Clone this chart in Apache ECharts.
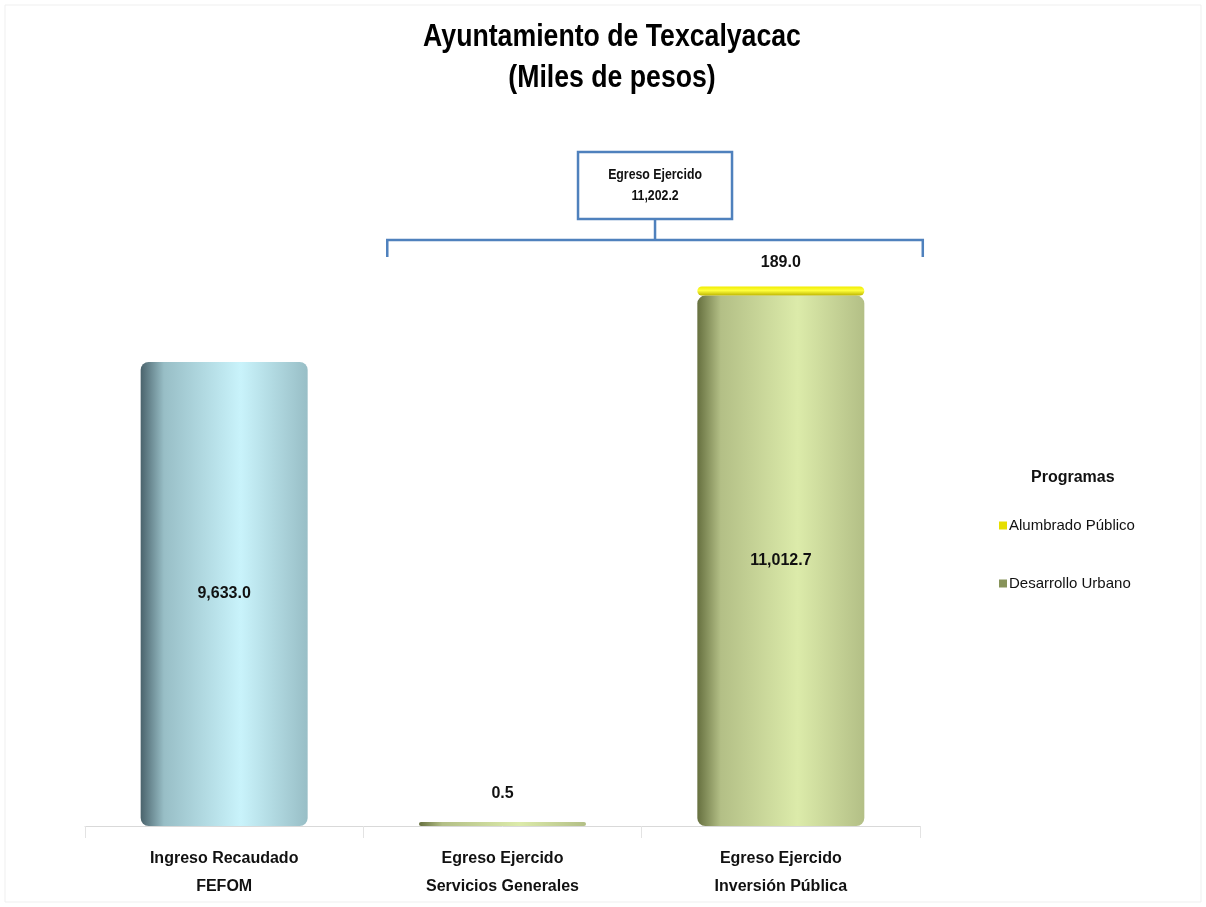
<!DOCTYPE html>
<html><head><meta charset="utf-8">
<script src="https://cdn.jsdelivr.net/npm/echarts@6/dist/echarts.min.js"></script>
<style>html,body{margin:0;padding:0;background:#fff}#c{width:1206px;height:907px}</style>
</head><body><div id="c"></div>
<script>
const categories = ['Ingreso Recaudado\nFEFOM', 'Egreso Ejercido\nServicios Generales', 'Egreso Ejercido\nInversión Pública'];
const ingreso = [9633.0, null, null];
const desarrolloUrbano = [null, 0.5, 11012.7];
const alumbradoPublico = [null, null, 189.0];
const yMax = 12000;

const FONT = "'Liberation Sans', Arial, sans-serif";
const fmt = v => v.toLocaleString('en-US', {minimumFractionDigits: 1, maximumFractionDigits: 1});
const egresoTotal = [...desarrolloUrbano, ...alumbradoPublico].reduce((s, v) => s + (v || 0), 0);

function grad(dark, light, mid) {
  return new echarts.graphic.LinearGradient(0, 0, 1, 0, [
    {offset: 0, color: dark}, {offset: 0.14, color: mid}, {offset: 0.6, color: light}, {offset: 1, color: mid}
  ]);
}
const blueFill = grad('#4a636c', '#c9f3fb', '#98bec6');
const greenFill = grad('#66703f', '#dcebaa', '#b3bf86');
const yellowFill = new echarts.graphic.LinearGradient(0, 0, 0, 1, [
  {offset: 0, color: '#f0ec00'}, {offset: 0.45, color: '#ffff3c'}, {offset: 1, color: '#bdb500'}]);

const valueLabel = {fontFamily: FONT, fontWeight: 'bold', fontSize: 16, color: '#111'};

const chart = echarts.init(document.getElementById('c'), null, {renderer: 'canvas'});
chart.setOption({
  backgroundColor: '#ffffff',
  animation: false,
  title: [{
    text: 'Programas', left: 1026, top: 465,
    textStyle: {fontFamily: FONT, fontWeight: 'bold', fontSize: 16, color: '#111'}
  }],
  legend: {
    orient: 'vertical', left: 994, top: 513, itemGap: 43,
    itemWidth: 8, itemHeight: 8, icon: 'rect',
    data: [
      {name: 'Alumbrado Público', itemStyle: {color: '#e6de00'}},
      {name: 'Desarrollo Urbano', itemStyle: {color: '#87935a'}}
    ],
    textStyle: {fontFamily: FONT, fontSize: 15, color: '#111', padding: [0, 0, 0, -3]}
  },
  grid: {left: 85, right: 1206 - 920, top: 826 - 578, height: 578},
  xAxis: {
    type: 'category', data: categories,
    axisLine: {lineStyle: {color: '#d9d9d9', width: 1}},
    axisTick: {show: true, length: 12, lineStyle: {color: '#e3e3e3'}},
    axisLabel: {fontFamily: FONT, fontWeight: 'bold', fontSize: 16, lineHeight: 28, color: '#111', margin: 19}
  },
  yAxis: {type: 'value', min: 0, max: yMax, show: false, splitLine: {show: false}},
  series: [{
    name: 'Ingreso', type: 'bar', stack: 's', barWidth: '60%',
    data: ingreso,
    itemStyle: {color: blueFill, borderRadius: 8},
    label: Object.assign({show: true, position: 'inside', formatter: p => fmt(p.value)}, valueLabel)
  }, {
    name: 'Desarrollo Urbano', type: 'bar', stack: 's', barWidth: '60%', barMinHeight: 4,
    data: desarrolloUrbano.map((v, i) => v == null ? v : {
      value: v,
      label: i === 1 ? {position: 'top', distance: 20} : {position: 'inside'}
    }),
    itemStyle: {color: greenFill, borderRadius: 8},
    label: Object.assign({show: true, formatter: p => fmt(p.value)}, valueLabel)
  }, {
    name: 'Alumbrado Público', type: 'bar', stack: 's', barWidth: '60%',
    data: alumbradoPublico,
    itemStyle: {color: yellowFill, borderRadius: 6},
    label: Object.assign({show: true, position: 'top', distance: 16, formatter: p => fmt(p.value)}, valueLabel)
  }]
});

// title (condensed like the original) and bracket annotation grouping the egreso columns
const c2 = chart.convertToPixel({xAxisIndex: 0}, 1);
const c3 = chart.convertToPixel({xAxisIndex: 0}, 2);
const step = c3 - c2;
const x1 = c2 - 0.414 * step, x2 = c3 + 0.51 * step;
const xm = (x1 + x2) / 2;
const yBar = chart.convertToPixel({yAxisIndex: 0}, yMax) - 8;
const blue = '#4f81bd';
chart.setOption({
  graphic: [
    {type: 'rect', shape: {x: 5, y: 5, width: 1196, height: 897},
     style: {stroke: '#efefef', lineWidth: 1, fill: null}, silent: true},
    {type: 'text', x: 612, y: 17, scaleX: 0.86,
     style: {text: 'Ayuntamiento de Texcalyacac\n(Miles de pesos)', align: 'center', verticalAlign: 'top',
       font: "bold 31px 'Liberation Sans', Arial, sans-serif", lineHeight: 41, fill: '#000'}},
    {type: 'polyline', shape: {points: [[x1, yBar + 17], [x1, yBar], [x2, yBar], [x2, yBar + 17]]},
     style: {stroke: blue, lineWidth: 2.5, fill: null}},
    {type: 'line', shape: {x1: xm, y1: yBar, x2: xm, y2: yBar - 21}, style: {stroke: blue, lineWidth: 2.5}},
    {type: 'rect', shape: {x: xm - 77, y: yBar - 88, width: 154, height: 67},
     style: {stroke: blue, lineWidth: 2.5, fill: '#fff'}},
    {type: 'text', x: xm, y: yBar - 54.5, scaleX: 0.88,
     style: {text: 'Egreso Ejercido\n' + fmt(egresoTotal), align: 'center', verticalAlign: 'middle',
       font: "bold 14px 'Liberation Sans', Arial, sans-serif", lineHeight: 21, fill: '#111'}}
  ]
});
</script></body></html>
